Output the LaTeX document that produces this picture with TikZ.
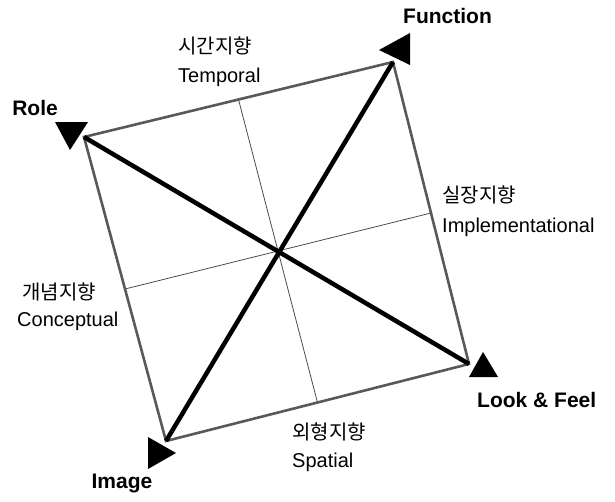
\documentclass[tikz,border=0pt]{standalone}
\usepackage{fontspec}
\setmainfont{Liberation Sans}
\newfontfamily\kr{Noto Sans CJK KR}
\usetikzlibrary{calc}
\begin{document}
\begin{tikzpicture}[x=1pt,y=-1pt,
 edgeline/.style={line width=2.6pt, draw=black!65},
 diag/.style={line width=4.5pt, draw=black},
 midline/.style={line width=0.8pt, draw=black!70},
 head/.style={fill=black, draw=none},
 cornerlbl/.style={font=\fontsize{21}{21}\selectfont\bfseries, inner sep=0pt},
 kor/.style={font=\kr\fontsize{20}{20}\selectfont, inner sep=0pt},
 eng/.style={font=\fontsize{20}{20}\selectfont, inner sep=0pt}]
\useasboundingbox (0,0) rectangle (615,501);
% corners
\coordinate (R) at (84,137);
\coordinate (F) at (393,62);
\coordinate (L) at (469,364);
\coordinate (I) at (166,441);
\coordinate (C) at (277,251);
\coordinate (mT) at ($(R)!0.5!(F)$);
\coordinate (mR) at ($(F)!0.5!(L)$);
\coordinate (mB) at ($(L)!0.5!(I)$);
\coordinate (mL) at ($(I)!0.5!(R)$);
% mid lines
\draw[midline] (mT) -- (mB);
\draw[midline] (mL) -- (mR);
% edges
\draw[edgeline] (R) -- (F) -- (L) -- (I) -- cycle;
% diagonals
\draw[diag] (R) -- (L);
\draw[diag] (F) -- (I);
% arrowheads
\path[head] (55,122) -- (88,122) -- (70,150) -- cycle;
\path[head] (410,33) -- (410,65) -- (379,50) -- cycle;
\path[head] (469,377) -- (498,377) -- (483,352) -- cycle;
\path[head] (148,437) -- (148,469) -- (176,453) -- cycle;
% corner labels
\node[cornerlbl, anchor=base west] (tF) at (403,23) {Function};
\node[cornerlbl, anchor=base east] (tR) at (58,115) {Role};
\node[cornerlbl, anchor=base west] (tL) at (477,407) {Look \& Feel};
\node[cornerlbl, anchor=base] (tI) at (122,488) {Image};
% orientation labels
\node[kor, anchor=base west] (k1) at (178,53) {시간지향};
\node[eng, anchor=base west] (e1) at (178,82) {Temporal};
\node[kor, anchor=base west] (k2) at (442,202) {실장지향};
\node[eng, anchor=base west] (e2) at (442,232) {Implementational};
\node[kor, anchor=base west] (k3) at (22,299) {개념지향};
\node[eng, anchor=base west] (e3) at (17,326) {Conceptual};
\node[kor, anchor=base west] (k4) at (292,439) {외형지향};
\node[eng, anchor=base west] (e4) at (292,467) {Spatial};
\end{tikzpicture}
\end{document}
